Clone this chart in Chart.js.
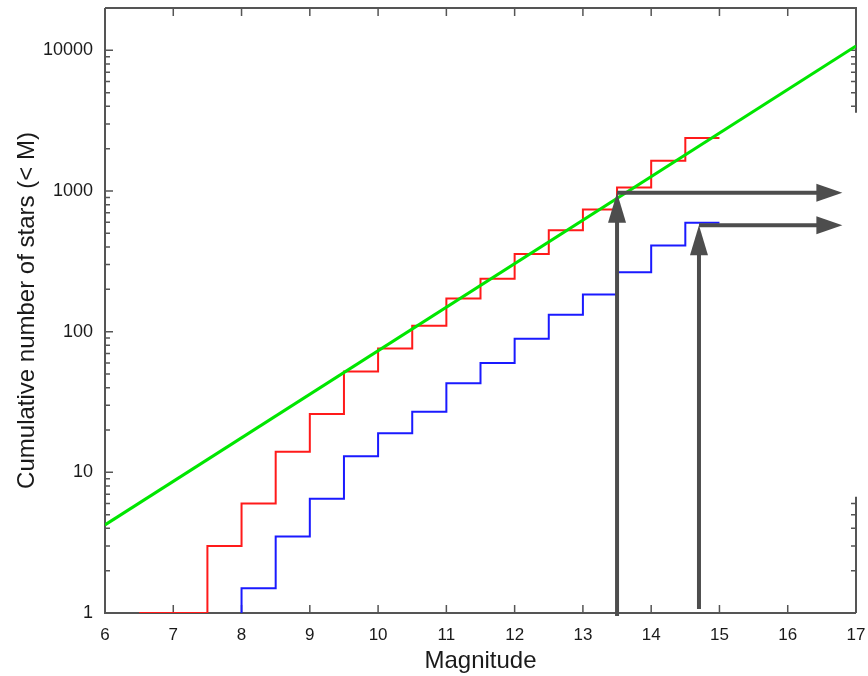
<!DOCTYPE html>
<html>
<head>
<meta charset="utf-8">
<script src="https://cdn.jsdelivr.net/npm/chart.js@4.4.1/dist/chart.umd.min.js"></script>
<style>
  html, body { margin: 0; padding: 0; background: #ffffff; }
  #wrap { width: 868px; height: 676px; }
</style>
</head>
<body>
<div id="wrap"><canvas id="c" width="868" height="676"></canvas></div>
<script>
// Cumulative star counts brighter than magnitude M (value holds from each bin edge onward)
const redMag   = [6.5, 7.5, 8.0, 8.5, 9.0, 9.5, 10.0, 10.5, 11.0, 11.5, 12.0, 12.5, 13.0, 13.5, 14.0, 14.5, 15.0];
const redCount = [1,   3,   6,   14,  26,  52,  76,   110,  172,  238,  357,  527,  738,  1058, 1640, 2380, 2380];

const blueMag   = [8.0, 8.0, 8.5, 9.0, 9.5, 10.0, 10.5, 11.0, 11.5, 12.0, 12.5, 13.0, 13.5, 14.0, 14.5, 15.0];
const blueCount = [1,   1.5, 3.5, 6.5, 13,  19,   27,   43,   60,   89,   132,  184,  264,  409,  594,  594];

// Power-law reference line
const fitMag   = [6, 17];
const fitCount = [4.23, 10740];

// Limit arrows: vertical at the limiting magnitude, horizontal at the count reached
const arrowMag   = [13.5, 14.7];
const arrowCount = [970, 571];
const arrowEnd   = 16.8;

const xTickValues = [6, 7, 8, 9, 10, 11, 12, 13, 14, 15, 16, 17];
const yTickValues = [1, 10, 100, 1000, 10000];

const AXIS = '#555555';
const TEXT = '#1a1a1a';
const ARROW = '#4d4d4d';

const pts = (xs, ys) => xs.map((x, i) => ({ x: x, y: ys[i] }));

// Frame with inward tick marks, drawn beneath the curves
const framePlugin = {
  id: 'frame',
  beforeDatasetsDraw(chart) {
    const { ctx, chartArea: a, scales: { x, y } } = chart;
    ctx.save();
    ctx.strokeStyle = AXIS;
    ctx.lineWidth = 2;
    ctx.beginPath();
    ctx.moveTo(a.left, a.top);
    ctx.lineTo(a.left, a.bottom);
    ctx.lineTo(a.right, a.bottom);
    ctx.moveTo(a.left, a.top);
    ctx.lineTo(a.right, a.top);
    // right edge is left open between two counts
    const gapTop = y.getPixelForValue(3600);
    const gapBot = y.getPixelForValue(6.7);
    ctx.lineTo(a.right, gapTop);
    ctx.moveTo(a.right, gapBot);
    ctx.lineTo(a.right, a.bottom);
    ctx.stroke();

    ctx.lineWidth = 1.5;
    ctx.beginPath();
    xTickValues.forEach(v => {
      const px = x.getPixelForValue(v);
      if (px <= a.left + 1 || px >= a.right - 1) return;
      ctx.moveTo(px, a.bottom);
      ctx.lineTo(px, a.bottom - 8);
      ctx.moveTo(px, a.top);
      ctx.lineTo(px, a.top + 8);
    });
    for (let d = 1; d <= 10000; d *= 10) {
      for (let k = 1; k <= 9; k++) {
        const v = d * k;
        if (v > y.max) break;
        const py = y.getPixelForValue(v);
        if (py >= a.bottom - 1 || py <= a.top + 1) continue;
        const len = k === 1 ? 8 : 5;
        ctx.moveTo(a.left, py);
        ctx.lineTo(a.left + len, py);
        if (py <= gapTop || py >= gapBot) {
          ctx.moveTo(a.right, py);
          ctx.lineTo(a.right - 5, py);
        }
      }
    }
    ctx.stroke();
    ctx.restore();
  },
  // limit arrows on top of the curves
  afterDatasetsDraw(chart) {
    const { ctx, chartArea: a, scales: { x, y } } = chart;
    ctx.save();
    ctx.strokeStyle = ARROW;
    ctx.fillStyle = ARROW;
    ctx.lineWidth = 4;
    ctx.lineCap = 'butt';
    const bottomExt = [3, -4];
    arrowMag.forEach((m, i) => {
      const px = x.getPixelForValue(m);
      const py = y.getPixelForValue(arrowCount[i]);
      const ex = x.getPixelForValue(arrowEnd);
      const head = 30, half = 9, hHead = 26;
      ctx.beginPath();
      ctx.moveTo(px, a.bottom + bottomExt[i]);
      ctx.lineTo(px, py + head - 2);
      ctx.stroke();
      ctx.beginPath();
      ctx.moveTo(px, py);
      ctx.lineTo(px - half, py + head);
      ctx.lineTo(px + half, py + head);
      ctx.closePath();
      ctx.fill();
      ctx.beginPath();
      ctx.moveTo(px, py);
      ctx.lineTo(ex - hHead + 2, py);
      ctx.stroke();
      ctx.beginPath();
      ctx.moveTo(ex, py);
      ctx.lineTo(ex - hHead, py - half);
      ctx.lineTo(ex - hHead, py + half);
      ctx.closePath();
      ctx.fill();
    });
    ctx.restore();
  }
};

new Chart(document.getElementById('c'), {
  type: 'line',
  data: {
    datasets: [
      {
        label: 'fit',
        data: pts(fitMag, fitCount),
        borderColor: '#00e600',
        borderWidth: 3,
        pointRadius: 0,
        fill: false
      },
      {
        label: 'all',
        data: pts(redMag, redCount),
        borderColor: '#ff1a1a',
        borderWidth: 2,
        pointRadius: 0,
        stepped: 'before',
        fill: false
      },
      {
        label: 'subset',
        data: pts(blueMag, blueCount),
        borderColor: '#1a1aff',
        borderWidth: 2,
        pointRadius: 0,
        stepped: 'before',
        fill: false
      }
    ]
  },
  options: {
    responsive: false,
    animation: false,
    events: [],
    layout: { padding: { top: 8, right: 12, left: 0, bottom: 0 } },
    plugins: {
      legend: { display: false },
      tooltip: { enabled: false }
    },
    scales: {
      x: {
        type: 'linear',
        min: 6,
        max: 17,
        grid: { display: false, drawTicks: false },
        border: { display: false },
        afterBuildTicks: s => { s.ticks = xTickValues.map(v => ({ value: v })); },
        afterFit: s => { s.height = 63; s.paddingLeft = 0; s.paddingRight = 0; },
        ticks: {
          autoSkip: false,
          maxRotation: 0,
          padding: 12,
          color: TEXT,
          font: { family: 'Liberation Sans', size: 17 },
          callback: v => String(v)
        },
        title: {
          display: true,
          text: 'Magnitude',
          color: TEXT,
          padding: { top: 0, bottom: 0 },
          font: { family: 'Liberation Sans', size: 24 }
        }
      },
      y: {
        type: 'logarithmic',
        min: 1,
        max: 20000,
        grid: { display: false, drawTicks: false },
        border: { display: false },
        afterBuildTicks: s => { s.ticks = yTickValues.map(v => ({ value: v })); },
        afterFit: s => { s.width = 105; s.paddingTop = 0; s.paddingBottom = 0; },
        ticks: {
          autoSkip: false,
          padding: 12,
          color: TEXT,
          font: { family: 'Liberation Sans', size: 18 },
          callback: v => String(v)
        },
        title: {
          display: true,
          text: 'Cumulative number of stars (< M)',
          color: TEXT,
          padding: { top: 13, bottom: 0 },
          font: { family: 'Liberation Sans', size: 24 }
        }
      }
    }
  },
  plugins: [framePlugin]
});
</script>
</body>
</html>
